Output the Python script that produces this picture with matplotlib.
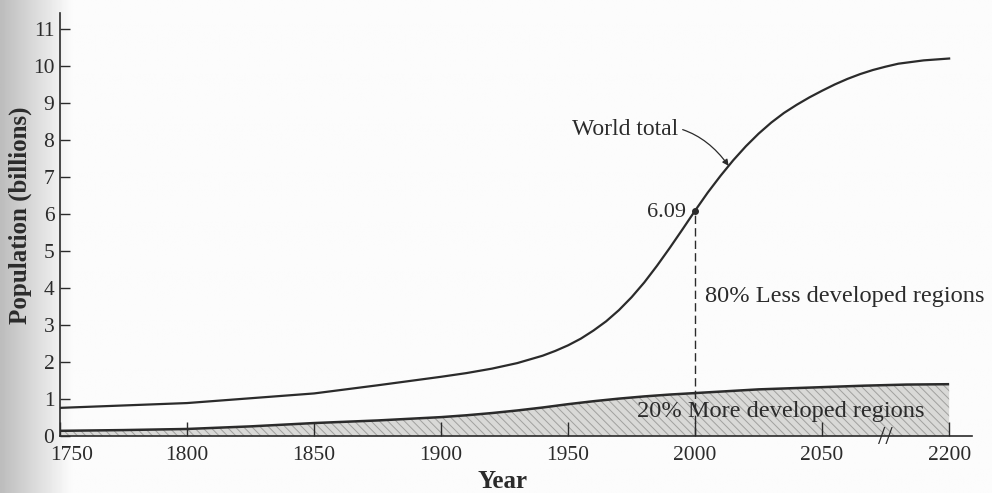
import numpy as np
import matplotlib
matplotlib.use("Agg")
import matplotlib.pyplot as plt
import matplotlib.transforms as mtransforms

# World total population (billions)
world_years = [1750, 1800, 1850, 1875, 1900, 1910, 1920, 1930, 1940, 1945, 1950,
               1955, 1960, 1965, 1970, 1975, 1980, 1985, 1990, 1995, 2000,
               2005, 2010, 2015, 2020, 2025, 2030, 2035, 2040, 2045, 2050,
               2065, 2080, 2095, 2110, 2125, 2140, 2170, 2200]
world_pop = [0.76, 0.89, 1.15, 1.37, 1.6, 1.7, 1.82, 1.97, 2.17, 2.3, 2.45,
             2.63, 2.85, 3.1, 3.4, 3.75, 4.15, 4.6, 5.08, 5.58, 6.09,
             6.58, 7.03, 7.45, 7.83, 8.17, 8.47, 8.73, 8.95, 9.15, 9.33,
             9.5, 9.65, 9.78, 9.89, 9.98, 10.06, 10.15, 10.2]

# More developed regions (billions)
more_years = [1750, 1775, 1800, 1825, 1850, 1875, 1900, 1910, 1920, 1930, 1940,
              1950, 1960, 1970, 1980, 1990, 2000, 2025, 2050, 2100, 2150, 2200]
more_pop = [0.14, 0.16, 0.19, 0.26, 0.35, 0.42, 0.51, 0.56, 0.62, 0.69, 0.77,
            0.86, 0.94, 1.01, 1.07, 1.12, 1.16, 1.26, 1.32, 1.36, 1.39, 1.4]

tick_years = [1750, 1800, 1850, 1900, 1950, 2000, 2050, 2200]
y_ticks = list(range(0, 12))

highlight_year = 2000
highlight_value = 6.09


def year_to_pos(year):
    """Axis is broken after 2050: the 2050-2200 span is squeezed 3x."""
    year = np.asarray(year, dtype=float)
    return np.where(year <= 2050, year, 2050 + (year - 2050) / 3.0)


plt.rcParams["font.family"] = ["Liberation Serif", "DejaVu Serif"]
plt.rcParams["hatch.linewidth"] = 0.7
plt.rcParams["hatch.color"] = "#9c9c9a"

ink = "#2b2b2b"
bg = "#eaeae8"

fig = plt.figure(figsize=(9.92, 4.93), dpi=100, facecolor=bg)

# scanned-page shading on the left edge
bg_ax = fig.add_axes([0, 0, 1, 1], zorder=-10)
grad = np.linspace(0, 1, 400)
shade = np.clip(grad * 14, 0, 1)
bg_ax.imshow(np.tile(shade, (10, 1)), aspect="auto", cmap="gray",
             vmin=-3.0, vmax=1.05, extent=[0, 1, 0, 1])
bg_ax.axis("off")

ax = fig.add_axes([60 / 992, 1 - 436 / 493, (972 - 60) / 992, (436 - 13) / 493])
ax.set_facecolor("none")

wx = year_to_pos(world_years)
mx = year_to_pos(more_years)

ax.fill_between(mx, 0, more_pop, facecolor="#d9d9d7", hatch="\\\\\\\\",
                edgecolor="#a0a09e", linewidth=0)
ax.plot(mx, more_pop, color=ink, linewidth=1.8, solid_capstyle="butt")
ax.plot(wx, world_pop, color=ink, linewidth=1.6)

ax.plot([highlight_year, highlight_year], [0, highlight_value], color=ink,
        linewidth=1.0, dashes=(6, 3))
ax.plot([highlight_year], [highlight_value], "o", color=ink, markersize=4)
ax.text(highlight_year - 3.5, highlight_value - 0.06, f"{highlight_value:.2f}",
        ha="right", va="center", fontsize=16, color=ink)

ax.annotate("World total", xy=(2013.2, 7.3), xytext=(1993.5, 8.27),
            ha="right", va="center", fontsize=17, color=ink,
            arrowprops=dict(arrowstyle="-|>", color=ink, lw=0.9,
                            mutation_scale=9, shrinkA=1, shrinkB=0,
                            connectionstyle="arc3,rad=-0.35"))

ax.text(2004, 3.76, "80% Less developed regions", ha="left", va="center",
        fontsize=17.6, color=ink)
ax.text(1977, 0.65, "20% More developed regions", ha="left", va="center",
        fontsize=17.6, color=ink)

# axis break mark
ax.text(year_to_pos(2125), -0.05, "//", ha="center", va="center",
        fontsize=19, color=ink, clip_on=False)

ax.set_xlim(1750, 2109)
ax.set_ylim(0, 11.43)
ax.set_xticks(year_to_pos(tick_years))
ax.set_xticklabels([str(y) for y in tick_years])
ax.set_yticks(y_ticks)
for side in ["top", "right"]:
    ax.spines[side].set_visible(False)
for side in ["left", "bottom"]:
    ax.spines[side].set_color(ink)
    ax.spines[side].set_linewidth(1.2)
ax.tick_params(axis="x", direction="in", length=10, width=1, pad=7,
               labelsize=15.5, colors=ink)
ax.tick_params(axis="y", direction="in", length=7, width=1, pad=4,
               labelsize=15.5, colors=ink)

# the first year label sits just right of the y axis
first = ax.get_xticklabels()[0]
first.set_transform(first.get_transform() +
                    mtransforms.ScaledTranslation(12 / 100, 0, fig.dpi_scale_trans))

fig.text(20 / 992, 1 - 215 / 493, "Population (billions)", rotation=90,
         ha="center", va="center", fontsize=18, fontweight="bold", color=ink)
fig.text(503 / 992, 1 - 481 / 493, "Year", ha="center", va="center",
         fontsize=18, fontweight="bold", color=ink)

fig.savefig("out.png", dpi=100, facecolor=bg)
